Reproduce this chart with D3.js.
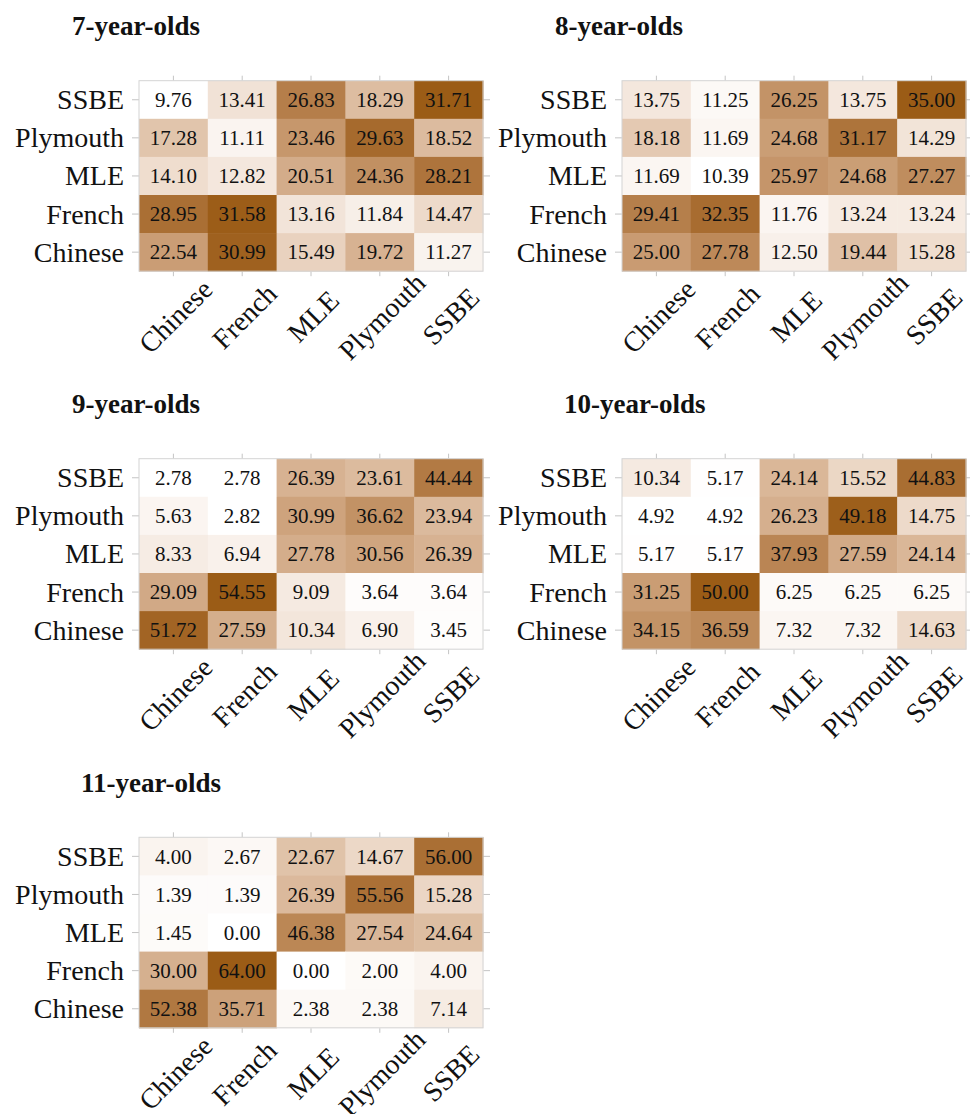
<!DOCTYPE html>
<html>
<head>
<meta charset="utf-8">
<script src="https://cdn.jsdelivr.net/npm/d3@7"></script>
<style>
  body { margin: 0; background: #fff; }
  svg text { font-family: "Liberation Serif", "DejaVu Serif", serif; fill: #111; }
</style>
</head>
<body>
<div id="chart"></div>
<script>
// Categories (columns left to right, rows bottom to top)
let columns = ["Chinese", "French", "MLE", "Plymouth", "SSBE"];
let rows = ["SSBE", "Plymouth", "MLE", "French", "Chinese"]; // top to bottom

let titles = ["7-year-olds", "8-year-olds", "9-year-olds", "10-year-olds", "11-year-olds"];

// Percentages, one row per entry of `rows`, one value per entry of `columns`
let age7 = [
	[9.76, 13.41, 26.83, 18.29, 31.71],
	[17.28, 11.11, 23.46, 29.63, 18.52],
	[14.10, 12.82, 20.51, 24.36, 28.21],
	[28.95, 31.58, 13.16, 11.84, 14.47],
	[22.54, 30.99, 15.49, 19.72, 11.27]
];
let age8 = [
	[13.75, 11.25, 26.25, 13.75, 35.00],
	[18.18, 11.69, 24.68, 31.17, 14.29],
	[11.69, 10.39, 25.97, 24.68, 27.27],
	[29.41, 32.35, 11.76, 13.24, 13.24],
	[25.00, 27.78, 12.50, 19.44, 15.28]
];
let age9 = [
	[2.78, 2.78, 26.39, 23.61, 44.44],
	[5.63, 2.82, 30.99, 36.62, 23.94],
	[8.33, 6.94, 27.78, 30.56, 26.39],
	[29.09, 54.55, 9.09, 3.64, 3.64],
	[51.72, 27.59, 10.34, 6.90, 3.45]
];
let age10 = [
	[10.34, 5.17, 24.14, 15.52, 44.83],
	[4.92, 4.92, 26.23, 49.18, 14.75],
	[5.17, 5.17, 37.93, 27.59, 24.14],
	[31.25, 50.00, 6.25, 6.25, 6.25],
	[34.15, 36.59, 7.32, 7.32, 14.63]
];
let age11 = [
	[4.00, 2.67, 22.67, 14.67, 56.00],
	[1.39, 1.39, 26.39, 55.56, 15.28],
	[1.45, 0.00, 46.38, 27.54, 24.64],
	[30.00, 64.00, 0.00, 2.00, 4.00],
	[52.38, 35.71, 2.38, 2.38, 7.14]
];
let panels = [age7, age8, age9, age10, age11];

// Layout of the 2-column grid of panels
let layout = [
	{ left: 139, top: 80.7, titleX: 72 },
	{ left: 622, top: 80.7, titleX: 555 },
	{ left: 139, top: 458.7, titleX: 72 },
	{ left: 622, top: 458.7, titleX: 564 },
	{ left: 139, top: 837.3, titleX: 81 }
];
let gridW = 344, gridH = 190.5;

let svg = d3.select("#chart").append("svg")
	.attr("width", 970)
	.attr("height", 1114);

panels.forEach((values, i) => {
	let pos = layout[i];

	// Title
	svg.append("text")
		.attr("x", pos.titleX)
		.attr("y", 35 + (pos.top - 80.7))
		.style("font-size", "27px")
		.style("font-weight", "bold")
		.text(titles[i]);

	let g = svg.append("g")
		.attr("transform", "translate(" + pos.left + "," + pos.top + ")");

	let x = d3.scaleBand().domain(columns).range([0, gridW]);
	let y = d3.scaleBand().domain(rows).range([0, gridH]);

	// Flatten into cells
	let cells = [];
	values.forEach((row, r) => row.forEach((v, c) => cells.push({ row: rows[r], col: columns[c], value: v })));

	let color = d3.scaleLinear()
		.domain(d3.extent(cells, d => d.value))
		.range(["#ffffff", "#9b5c16"])
		.interpolate(d3.interpolateLab);

	// Axes (tick marks on all four sides)
	let tickStyle = sel => {
		sel.select(".domain").remove();
		sel.selectAll(".tick line").attr("stroke", "#c4c4c4");
	};

	let yAxis = g.append("g")
		.call(d3.axisLeft(y).tickSize(7).tickPadding(8))
		.call(tickStyle);
	yAxis.selectAll(".tick text")
		.style("font-size", "28px")
		.attr("dy", "0.34em");

	g.append("g")
		.attr("transform", "translate(" + gridW + ",0)")
		.call(d3.axisRight(y).tickSize(7).tickFormat(""))
		.call(tickStyle);

	g.append("g")
		.call(d3.axisTop(x).tickSize(5).tickFormat(""))
		.call(tickStyle);

	let xAxis = g.append("g")
		.attr("transform", "translate(0," + gridH + ")")
		.call(d3.axisBottom(x).tickSize(5).tickFormat(""))
		.call(tickStyle);

	// Rotated x labels, centred under each tick
	xAxis.selectAll(".x-label")
		.data(columns)
		.enter().append("text")
		.attr("class", "x-label")
		.attr("transform", d => "translate(" + (x(d) + x.bandwidth() / 2 + 3) + ",46) rotate(-45)")
		.attr("text-anchor", "middle")
		.attr("dy", "0.3em")
		.style("font-size", "28px")
		.text(d => d);

	// Cells
	g.selectAll(".cell")
		.data(cells)
		.enter().append("rect")
		.attr("class", "cell")
		.attr("x", d => x(d.col))
		.attr("y", d => y(d.row))
		.attr("width", x.bandwidth() + 0.5)
		.attr("height", y.bandwidth() + 0.5)
		.attr("fill", d => color(d.value));

	// Panel border
	g.append("rect")
		.attr("width", gridW)
		.attr("height", gridH)
		.attr("fill", "none")
		.attr("stroke", "#d4d4d4")
		.attr("stroke-width", 1);

	// Cell values
	g.selectAll(".cell-label")
		.data(cells)
		.enter().append("text")
		.attr("class", "cell-label")
		.attr("x", d => x(d.col) + x.bandwidth() / 2)
		.attr("y", d => y(d.row) + y.bandwidth() / 2)
		.attr("dy", "0.35em")
		.attr("text-anchor", "middle")
		.style("font-size", "21px")
		.text(d => d.value.toFixed(2));
});
</script>
</body>
</html>
